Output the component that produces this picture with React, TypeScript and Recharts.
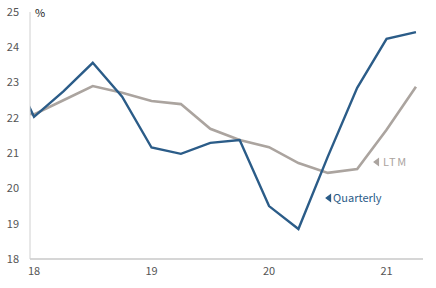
import React from "react"
import { LineChart, Line, XAxis, YAxis, ReferenceDot } from "recharts"

// quarter positions in years (17.75 = 4Q17, partly clipped at the left edge)
const quarters = [17.75, 18, 18.25, 18.5, 18.75, 19, 19.25, 19.5, 19.75, 20, 20.25, 20.5, 20.75, 21, 21.25]
const quarterly = [23.8, 22.03, 22.75, 23.56, 22.6, 21.16, 20.98, 21.29, 21.37, 19.5, 18.85, 20.9, 22.85, 24.24, 24.43]
const ltm = [22.2, 22.1, 22.5, 22.9, 22.71, 22.48, 22.39, 21.69, 21.37, 21.17, 20.72, 20.44, 20.55, 21.66, 22.88]

const xTicks = [18, 19, 20, 21]
const yTicks = [18, 19, 20, 21, 22, 23, 24, 25]

const BLUE = "#2b5c88"
const GREY = "#aba49f"
const FONT = "'Noto Sans CJK JP', 'Noto Sans', sans-serif"

const data = quarters.map((q, i) => ({ q, quarterly: quarterly[i], ltm: ltm[i] }))

function SeriesTag({ viewBox, text, color, gap = 8, spacing = 0 }: any) {
  const x = viewBox?.cx ?? viewBox?.x ?? 0
  const y = viewBox?.cy ?? viewBox?.y ?? 0
  return (
    <g>
      <polygon points={`${x},${y} ${x + 6},${y - 4.5} ${x + 6},${y + 4.5}`} fill={color} />
      <text
        x={x + gap}
        y={y}
        dy="0.35em"
        fill={color}
        fontSize={11}
        fontFamily={FONT}
        letterSpacing={spacing}
      >
        {text}
      </text>
    </g>
  )
}

export default function App() {
  return (
    <div style={{ position: "fixed", left: 0, top: 0, width: 436, height: 288, background: "#fff" }}>
      <span
        style={{
          position: "absolute",
          left: 35,
          top: 5,
          fontSize: 11,
          fontFamily: FONT,
          color: "#222",
          lineHeight: "14px",
        }}
      >
        %
      </span>
      <LineChart width={436} height={288} data={data} margin={{ top: 12, right: 13, bottom: 0, left: 0 }}>
        <XAxis
          dataKey="q"
          type="number"
          domain={[17.966, 21.31]}
          allowDataOverflow
          ticks={xTicks}
          tickFormatter={(v: number) => String(v)}
          height={29}
          tickLine={false}
          tickSize={0}
          tickMargin={8}
          axisLine={{ stroke: "#d6d6d6", strokeWidth: 2 }}
          tick={{ fill: "#555", fontSize: 11, fontFamily: FONT }}
        />
        <YAxis
          type="number"
          domain={[18, 25]}
          ticks={yTicks}
          width={30}
          tickLine={false}
          tickSize={0}
          tickMargin={11}
          axisLine={{ stroke: "#d0d0d0", strokeWidth: 1 }}
          tick={{ fill: "#555", fontSize: 11, fontFamily: FONT }}
        />
        <Line
          dataKey="ltm"
          stroke={GREY}
          strokeWidth={2.6}
          dot={false}
          type="linear"
          isAnimationActive={false}
        />
        <Line
          dataKey="quarterly"
          stroke={BLUE}
          strokeWidth={2.4}
          dot={false}
          type="linear"
          isAnimationActive={false}
        />
        <ReferenceDot
          x={20.885}
          y={20.75}
          r={0}
          stroke="none"
          label={(props: any) => <SeriesTag {...props} text="LTM" color={GREY} gap={10} spacing={1.5} />}
        />
        <ReferenceDot
          x={20.477}
          y={19.73}
          r={0}
          stroke="none"
          label={(props: any) => <SeriesTag {...props} text="Quarterly" color={BLUE} gap={8} />}
        />
      </LineChart>
    </div>
  )
}
